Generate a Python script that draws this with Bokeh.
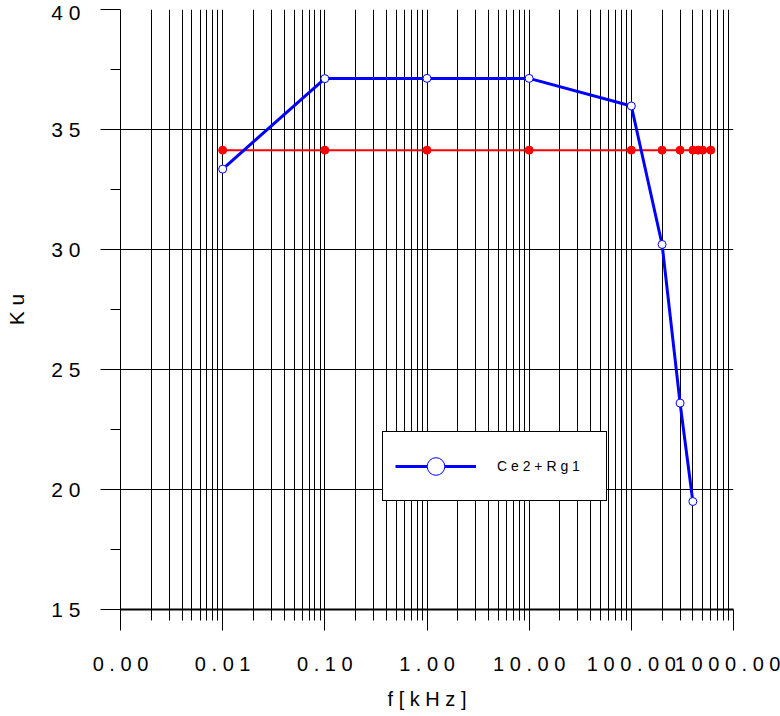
from bokeh.plotting import figure
from bokeh.models import FixedTicker, Legend, LegendItem, Range1d
from bokeh.embed import file_html
from bokeh.resources import INLINE

# ---- data ----
freq_blue = [0.01, 0.1, 1, 10, 100, 200, 300, 400]
ku_blue = [33.35, 37.12, 37.13, 37.13, 35.98, 30.21, 23.6, 19.5]

freq_red = [0.01, 0.1, 1, 10, 100, 200, 300, 400, 450, 500, 600]
ku_red = [34.14, 34.14, 34.14, 34.14, 34.14, 34.14, 34.14, 34.14, 34.14, 34.14, 34.14]

x_ticks = [0.001, 0.01, 0.1, 1, 10, 100, 1000]
x_tick_labels = ["0 . 0 0", "0 . 0 1", "0 . 1 0", "1 . 0 0", "1 0 . 0 0", "1 0 0 . 0 0", "1 0 0 0 . 0 0"]
y_ticks = [15, 20, 25, 30, 35, 40]
y_tick_labels = ["1 5", "2 0", "2 5", "3 0", "3 5", "4 0"]
series_name = "C e 2 + R g 1"
x_title = "f [ k H z ]"
y_title = "K u"

FONT = "Liberation Sans"

p = figure(width=780, height=716, x_axis_type="log",
           x_range=Range1d(0.001, 1000), y_range=Range1d(15, 40),
           output_backend="svg", toolbar_location=None,
           min_border_left=120, min_border_right=47,
           min_border_top=9, min_border_bottom=107)
p.outline_line_color = None
p.background_fill_color = "white"
p.border_fill_color = "white"

minor_x = [m * 10.0 ** e for e in range(-3, 3) for m in range(2, 10)]
minor_y = [17.5, 22.5, 27.5, 32.5, 37.5]
p.xaxis.ticker = FixedTicker(ticks=x_ticks, minor_ticks=minor_x)
p.yaxis.ticker = FixedTicker(ticks=y_ticks, minor_ticks=minor_y)
p.xaxis.major_label_overrides = {t: l for t, l in zip(x_ticks, x_tick_labels)}
p.yaxis.major_label_overrides = {t: l for t, l in zip(y_ticks, y_tick_labels)}

for ax in (p.xaxis[0], p.yaxis[0]):
    ax.axis_line_color = "black"
    ax.major_tick_line_color = "black"
    ax.minor_tick_line_color = "black"
    ax.major_tick_in = 0
    ax.minor_tick_in = 0
    ax.major_label_text_font = FONT
    ax.major_label_text_color = "black"
    ax.axis_label_text_font = FONT
    ax.axis_label_text_font_style = "normal"
    ax.axis_label_text_color = "black"
    ax.major_label_standoff = 20

p.xaxis.major_tick_out = 21
p.xaxis.minor_tick_out = 11
p.xaxis.axis_line_width = 2
p.xaxis.major_label_text_font_size = "20px"
p.xaxis.major_label_standoff = 22
p.xaxis.axis_label = x_title
p.xaxis.axis_label_text_font_size = "20px"
p.xaxis.axis_label_standoff = 10

p.yaxis.major_tick_out = 20
p.yaxis.minor_tick_out = 10
p.yaxis.major_label_text_font_size = "21px"
p.yaxis.axis_label = y_title
p.yaxis.axis_label_text_font_size = "21px"
p.yaxis.axis_label_standoff = 20

p.xgrid.grid_line_color = "black"
p.xgrid.grid_line_alpha = 1
p.xgrid.minor_grid_line_color = "black"
p.ygrid.grid_line_color = "black"
p.ygrid.grid_line_alpha = 1

# red series (underneath)
p.line(freq_red, ku_red, line_color="red", line_width=2)
p.scatter(freq_red, ku_red, marker="circle", size=8, fill_color="red", line_color="red")

# blue series
blue_line = p.line(freq_blue, ku_blue, line_color="blue", line_width=3)
blue_mark = p.scatter(freq_blue, ku_blue, marker="circle", size=8, fill_color="white",
                      line_color="blue", line_width=1)

legend = Legend(items=[LegendItem(label=series_name, renderers=[blue_line, blue_mark])],
                location=(262, 108), orientation="vertical",
                padding=12, margin=0, spacing=0,
                glyph_width=81, glyph_height=44, label_standoff=21,
                label_width=97,
                label_text_font=FONT, label_text_font_size="14px",
                label_text_color="black",
                border_line_color="black", border_line_width=1,
                border_line_alpha=1,
                background_fill_color="white", background_fill_alpha=1)
p.add_layout(legend, "center")

open("out.html", "w").write(file_html(p, INLINE))
